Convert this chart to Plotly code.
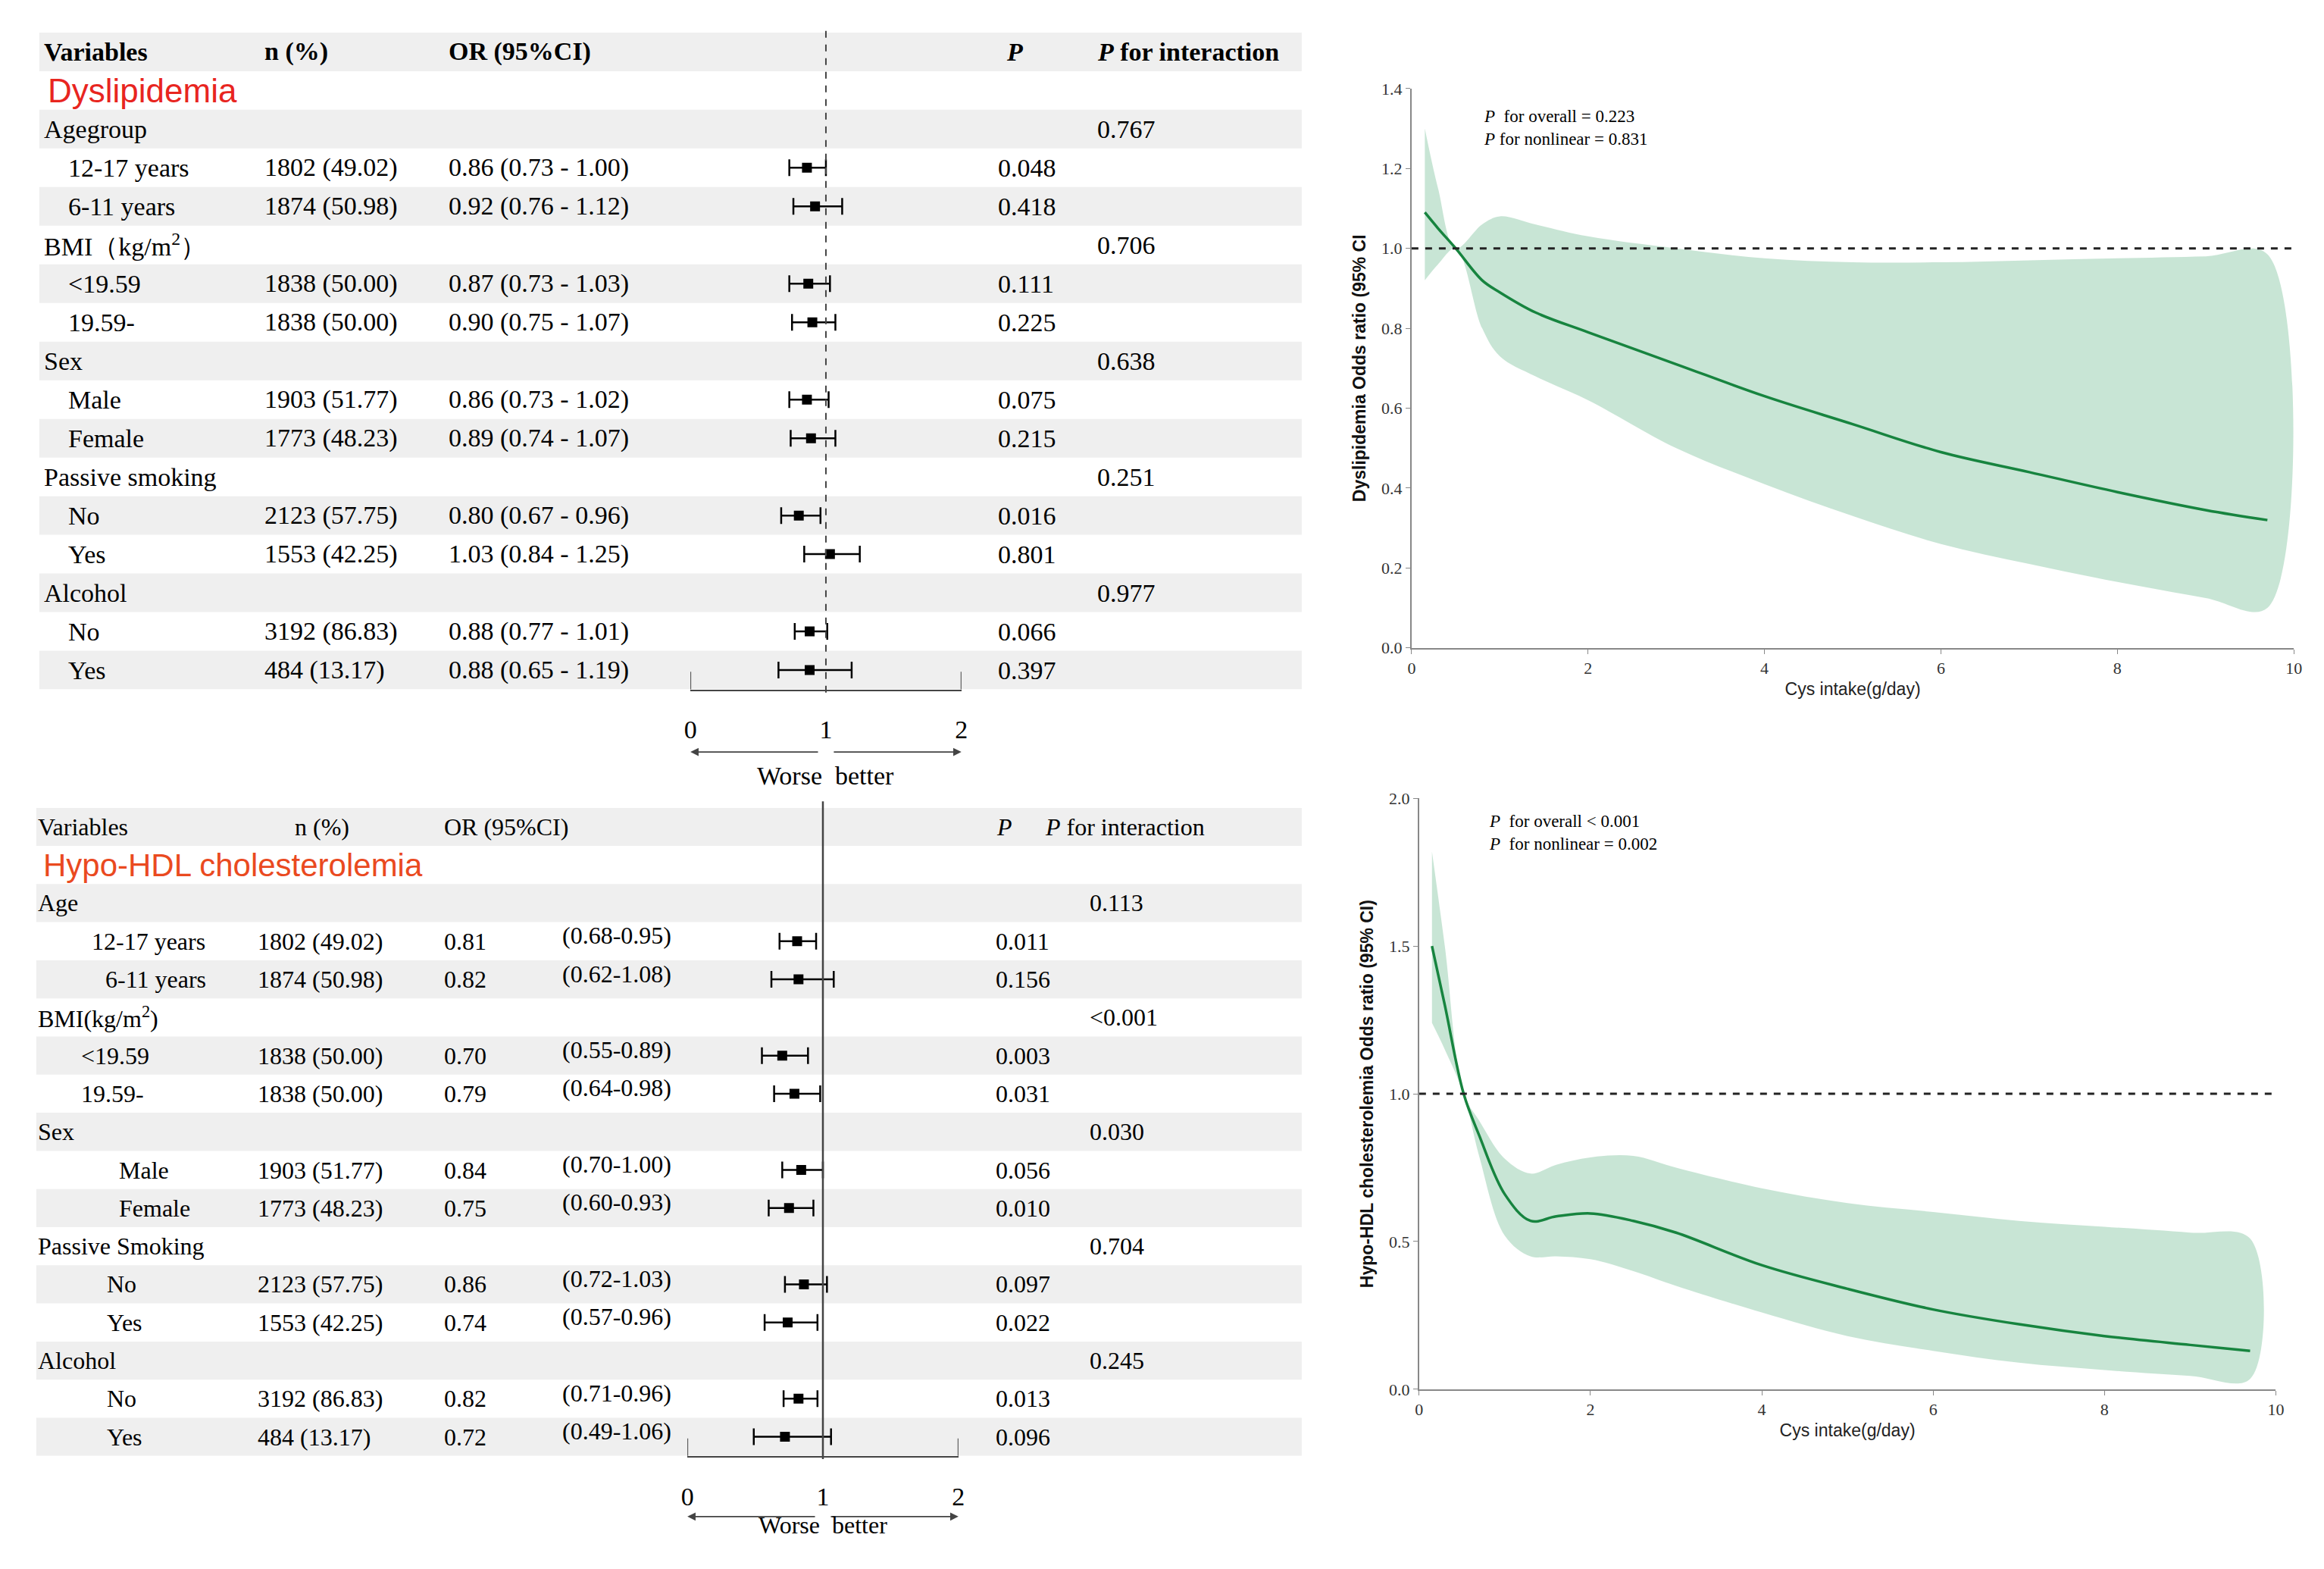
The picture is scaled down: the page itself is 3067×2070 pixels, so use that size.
import plotly.graph_objects as go

W, H = 3067, 2070

# ---------------- data: forest tables ----------------
top_labels = ["Agegroup", "12-17 years", "6-11 years", "BMI（kg/m<sup>2</sup>）", "<19.59", "19.59-",
              "Sex", "Male", "Female", "Passive smoking", "No", "Yes", "Alcohol", "No", "Yes"]
top_sub = [0, 1, 1, 0, 1, 1, 0, 1, 1, 0, 1, 1, 0, 1, 1]
top_n = ["", "1802 (49.02)", "1874 (50.98)", "", "1838 (50.00)", "1838 (50.00)", "", "1903 (51.77)",
         "1773 (48.23)", "", "2123 (57.75)", "1553 (42.25)", "", "3192 (86.83)", "484 (13.17)"]
top_or = [None, 0.86, 0.92, None, 0.87, 0.90, None, 0.86, 0.89, None, 0.80, 1.03, None, 0.88, 0.88]
top_lo = [None, 0.73, 0.76, None, 0.73, 0.75, None, 0.73, 0.74, None, 0.67, 0.84, None, 0.77, 0.65]
top_hi = [None, 1.00, 1.12, None, 1.03, 1.07, None, 1.02, 1.07, None, 0.96, 1.25, None, 1.01, 1.19]
top_p = ["", "0.048", "0.418", "", "0.111", "0.225", "", "0.075", "0.215", "", "0.016", "0.801", "", "0.066", "0.397"]
top_pint = ["0.767", "", "", "0.706", "", "", "0.638", "", "", "0.251", "", "", "0.977", "", ""]

bot_labels = ["Age", "12-17 years", "6-11 years", "BMI(kg/m<sup>2</sup>)", "<19.59", "19.59-",
              "Sex", "Male", "Female", "Passive Smoking", "No", "Yes", "Alcohol", "No", "Yes"]
bot_indent = [0, 72, 90, 0, 58, 58, 0, 108, 108, 0, 92, 92, 0, 92, 92]
bot_n = ["", "1802 (49.02)", "1874 (50.98)", "", "1838 (50.00)", "1838 (50.00)", "", "1903 (51.77)",
         "1773 (48.23)", "", "2123 (57.75)", "1553 (42.25)", "", "3192 (86.83)", "484 (13.17)"]
bot_or = [None, 0.81, 0.82, None, 0.70, 0.79, None, 0.84, 0.75, None, 0.86, 0.74, None, 0.82, 0.72]
bot_lo = [None, 0.68, 0.62, None, 0.55, 0.64, None, 0.70, 0.60, None, 0.72, 0.57, None, 0.71, 0.49]
bot_hi = [None, 0.95, 1.08, None, 0.89, 0.98, None, 1.00, 0.93, None, 1.03, 0.96, None, 0.96, 1.06]
bot_p = ["", "0.011", "0.156", "", "0.003", "0.031", "", "0.056", "0.010", "", "0.097", "0.022", "", "0.013", "0.096"]
bot_pint = ["0.113", "", "", "<0.001", "", "", "0.030", "", "", "0.704", "", "", "0.245", "", ""]

# ---------------- data: restricted cubic splines ----------------
dys_x = [0.15, 0.3, 0.5, 0.8, 1.0, 1.4, 2, 3, 4, 5, 6, 7, 8, 9, 9.7]
dys_est = [1.09, 1.05, 1.00, 0.92, 0.89, 0.84, 0.79, 0.71, 0.63, 0.56, 0.49, 0.44, 0.39, 0.345, 0.32]
dys_lo = [0.92, 0.96, 1.00, 0.80, 0.73, 0.68, 0.62, 0.50, 0.41, 0.33, 0.26, 0.21, 0.165, 0.125, 0.10]
dys_hi = [1.30, 1.15, 1.00, 1.06, 1.08, 1.06, 1.03, 1.00, 0.975, 0.965, 0.965, 0.97, 0.975, 0.98, 0.985]

hdl_x = [0.15, 0.3, 0.52, 0.7, 1.0, 1.3, 1.6, 2.0, 2.5, 3, 4, 5, 6, 7, 8, 9, 9.7]
hdl_est = [1.50, 1.30, 1.00, 0.86, 0.66, 0.57, 0.585, 0.595, 0.57, 0.53, 0.42, 0.34, 0.27, 0.22, 0.18, 0.15, 0.13]
hdl_lo = [1.24, 1.15, 1.00, 0.79, 0.52, 0.45, 0.45, 0.44, 0.40, 0.35, 0.26, 0.18, 0.13, 0.09, 0.065, 0.045, 0.035]
hdl_hi = [1.82, 1.50, 1.00, 0.91, 0.78, 0.73, 0.76, 0.785, 0.79, 0.75, 0.68, 0.63, 0.60, 0.57, 0.55, 0.53, 0.51]

GRAY = "#efefef"
SERIF = "Liberation Serif"
SANS = "Liberation Sans"

fig = go.Figure()
shapes, annos = [], []


def px_x(p):
    return p / W


def px_y(p):
    return 1 - p / H


def forest(ax, labels, indent, nvals, orv, lo, hi, pv, pint, cols, title, title_color, ref_dash, fsz):
    xa, ya = ("x", "y") if ax == 1 else ("x2", "y2")
    # stripes, even rows grey
    for r in range(0, 17, 2):
        shapes.append(dict(type="rect", xref="paper", yref=ya, x0=px_x(cols["left"]), x1=px_x(cols["right"]),
                           y0=r - 0.5, y1=r + 0.5, fillcolor=GRAY, line_width=0, layer="below"))

    def txt(x, r, s, size=fsz, bold=False, color="black", font=SERIF):
        annos.append(dict(xref="paper", yref=ya, x=px_x(x), y=r, text=(f"<b>{s}</b>" if bold else s),
                          showarrow=False, xanchor="left", yanchor="middle",
                          font=dict(family=font, size=size, color=color)))

    for key, s in cols["header"]:
        txt(cols[key], 0, s, bold=cols["bold"])
    txt(cols["title"], 1, title, size=fsz + 10, color=title_color, font=SANS)
    for i, lab in enumerate(labels):
        r = i + 2
        txt(cols["var"] + indent[i], r, lab)
        if nvals[i]:
            txt(cols["n"], r, nvals[i])
        if orv[i] is not None:
            if cols.get("ci"):
                txt(cols["or"], r, f"{orv[i]:.2f}")
                txt(cols["ci"], r - 0.15, f"({lo[i]:.2f}-{hi[i]:.2f})")
            else:
                txt(cols["or"], r, f"{orv[i]:.2f} ({lo[i]:.2f} - {hi[i]:.2f})")
        if pv[i]:
            txt(cols["p"], r, pv[i])
        if pint[i]:
            txt(cols["pint"], r, pint[i])

    ys = [i + 2 for i, v in enumerate(orv) if v is not None]
    xs = [v for v in orv if v is not None]
    ep = [h - v for v, h in zip(orv, hi) if v is not None]
    em = [v - l for v, l in zip(orv, lo) if v is not None]
    fig.add_trace(go.Scatter(x=xs, y=ys, xaxis=xa, yaxis=ya, mode="markers",
                             marker=dict(symbol="square", size=13, color="black"),
                             error_x=dict(type="data", symmetric=False, array=ep, arrayminus=em,
                                          color="black", thickness=2.5, width=11),
                             showlegend=False, hoverinfo="skip"))
    # reference line at 1
    shapes.append(dict(type="line", xref=xa, yref=ya + " domain", x0=1, x1=1, y0=-0.005, y1=1.01,
                       line=dict(color="#444", width=2.5 if ref_dash == "solid" else 2, dash=ref_dash)))
    # bracket ends
    for xv in (0, 2):
        shapes.append(dict(type="line", xref=xa, yref=ya + " domain", x0=xv, x1=xv, y0=0, y1=0.027,
                           line=dict(color="#444", width=2)))
    # arrows + label
    yb = cols["arrow_y"]
    for x0, x1 in ((0.95, 0), (1.05, 2)):
        annos.append(dict(xref=xa, yref="paper", x=x1, y=px_y(yb), axref=xa, ayref="pixel",
                          ax=x0, ay=0, text="", showarrow=True, arrowhead=2, arrowsize=1.2,
                          arrowwidth=1.8, arrowcolor="#444"))
    annos.append(dict(xref=xa, yref="paper", x=1, y=px_y(yb + 32), text="Worse  better", showarrow=False,
                      font=dict(family=SERIF, size=fsz, color="black")))


top_cols = dict(left=35, right=1712, var=39, title=44, n=332, **{"or": 577}, p=1307, pint=1438,
                header=[("var", "Variables"), ("n", "n (%)"), ("or", "OR (95%CI)"), ("ph", "<i>P</i>"),
                        ("pint", "<i>P</i> for interaction")], bold=True, arrow_y=984, ph=1318)
forest(1, top_labels, [32 * s for s in top_sub], top_n, top_or, top_lo, top_hi, top_p, top_pint,
       top_cols, "Dyslipidemia", "#e8251f", "dash", 34)

bot_cols = dict(left=31, right=1712, var=31, title=38, n=323, **{"or": 571}, ci=728, p=1303, pint=1428,
                header=[("var", "Variables"), ("nh", "n (%)"), ("or", "OR (95%CI)"), ("ph", "<i>P</i>"),
                        ("pinth", "<i>P</i> for interaction")], bold=False, arrow_y=2005,
                nh=372, ph=1305, pinth=1369)
forest(2, bot_labels, bot_indent, bot_n, bot_or, bot_lo, bot_hi, bot_p, bot_pint,
       bot_cols, "Hypo-HDL cholesterolemia", "#ea4a1f", "solid", 32)

# ---------------- RCS panels ----------------
FILL = "rgba(150,205,175,0.52)"
LINE = "#17843f"
for k, (xv, est, lo, hi) in enumerate([(dys_x, dys_est, dys_lo, dys_hi), (hdl_x, hdl_est, hdl_lo, hdl_hi)]):
    xa, ya = ("x3", "y3") if k == 0 else ("x4", "y4")
    fig.add_trace(go.Scatter(x=xv + xv[::-1], y=hi + lo[::-1], xaxis=xa, yaxis=ya, fill="toself",
                             fillcolor=FILL, line=dict(width=0, shape="spline"), mode="lines",
                             showlegend=False, hoverinfo="skip"))
    fig.add_trace(go.Scatter(x=xv, y=est, xaxis=xa, yaxis=ya, mode="lines",
                             line=dict(color=LINE, width=3.5, shape="spline"), showlegend=False))
    fig.add_trace(go.Scatter(x=[0, 10], y=[1, 1], xaxis=xa, yaxis=ya, mode="lines",
                             line=dict(color="#222", width=3, dash="dash"), showlegend=False))

ptxt = [("<i>P</i>  for overall = 0.223<br><i>P</i> for nonlinear = 0.831", "x3 domain", "y3 domain", 0.08, 0.97),
        ("<i>P</i>  for overall < 0.001<br><i>P</i>  for nonlinear = 0.002", "x4 domain", "y4 domain", 0.08, 0.98)]
for t, xr, yr, x, y in ptxt:
    annos.append(dict(xref=xr, yref=yr, x=x, y=y, text=t, showarrow=False, xanchor="left", yanchor="top",
                      align="left", font=dict(family=SERIF, size=23, color="black")))

rcs_axis = dict(showline=True, linecolor="#888", linewidth=2, ticks="outside", tickcolor="#888", ticklen=6,
                showgrid=False, zeroline=False, tickfont=dict(family=SERIF, size=22, color="#333"))
forest_y = dict(showgrid=False, zeroline=False, showticklabels=False, showline=False)
forest_x = dict(range=[0, 2], tickvals=[0, 1, 2], showgrid=False, zeroline=False, showline=True,
                linecolor="#444", linewidth=2, ticks="", ticklabelstandoff=22,
                tickfont=dict(family=SERIF, size=34, color="black"))

fig.update_layout(
    width=W, height=H, margin=dict(l=0, r=0, t=0, b=0), plot_bgcolor="rgba(0,0,0,0)", paper_bgcolor="white",
    xaxis=dict(domain=[px_x(900), px_x(1260)], anchor="y", **forest_x),
    yaxis=dict(domain=[px_y(900.4), px_y(23.2)], range=[16.5, -0.5], anchor="x", **forest_y),
    xaxis2=dict(domain=[px_x(896), px_x(1256)], anchor="y2", **forest_x),
    yaxis2=dict(domain=[px_y(1924), px_y(1058.5)], range=[16.5, -0.5], anchor="x2", **forest_y),
    xaxis3=dict(domain=[px_x(1858), px_x(3030)], range=[0, 10], anchor="y3", tickvals=[0, 2, 4, 6, 8, 10],
                title=dict(text="Cys intake(g/day)", font=dict(family=SANS, size=23, color="#222"), standoff=8),
                **rcs_axis),
    yaxis3=dict(domain=[px_y(845), px_y(98)], range=[0, 1.4], anchor="x3", dtick=0.2, tickformat=".1f",
                title=dict(text="<b>Dyslipidemia Odds ratio (95% CI</b>", font=dict(family=SANS, size=23, color="#111"),
                           standoff=14), **rcs_axis),
    xaxis4=dict(domain=[px_x(1868), px_x(3006)], range=[0, 10], anchor="y4", tickvals=[0, 2, 4, 6, 8, 10],
                title=dict(text="Cys intake(g/day)", font=dict(family=SANS, size=23, color="#222"), standoff=8),
                **rcs_axis),
    yaxis4=dict(domain=[px_y(1835), px_y(1046)], range=[0, 2], anchor="x4", dtick=0.5, tickformat=".1f",
                title=dict(text="<b>Hypo-HDL cholesterolemia Odds ratio (95% CI)</b>",
                           font=dict(family=SANS, size=23, color="#111"), standoff=14), **rcs_axis),
    shapes=shapes, annotations=annos,
)

fig.write_html("out.html")
